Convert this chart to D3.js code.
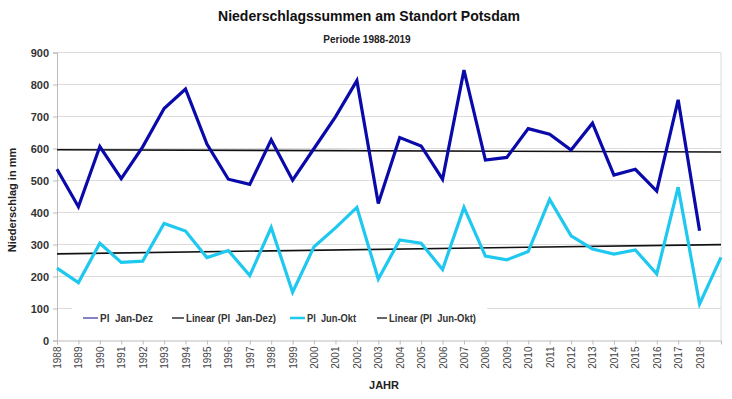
<!DOCTYPE html>
<html>
<head>
<meta charset="utf-8">
<script src="https://cdnjs.cloudflare.com/ajax/libs/d3/7.8.5/d3.min.js"></script>
<style>
  body { margin: 0; background: #fff; }
  text { font-family: "Liberation Sans", Arial, sans-serif; }
</style>
</head>
<body>
<svg id="chart" width="732" height="399"></svg>
<script>
// data
const years = d3.range(1988, 2020);
const tickYears = d3.range(1988, 2019);
const janDez = [535, 418, 606, 506, 605, 725, 786, 614, 504, 488,
                627, 501, 600, 699, 812, 428, 634, 608, 504, 845,
                564, 572, 662, 645, 595, 679, 517, 535, 467, 752,
                343, null];
const junOkt = [226, 181, 304, 244, 248, 366, 342, 259, 281, 203,
                353, 151, 293, 352, 416, 192, 314, 304, 222, 416,
                264, 252, 278, 441, 327, 286, 270, 283, 208, 479,
                114, 260];
const yTicks = [0, 100, 200, 300, 400, 500, 600, 700, 800, 900];

const svg = d3.select("#chart");
const plotLeft = 57, plotRight = 721, plotTop = 52.5, plotBottom = 340.5;

const x = d3.scaleLinear().domain([1988, 2019]).range([plotLeft, plotRight]);
const y = d3.scaleLinear().domain([0, 900]).range([plotBottom, plotTop]);

// titles
svg.append("text").attr("x", 369).attr("y", 21).attr("text-anchor", "middle")
  .style("font-size", "14px").style("font-weight", "bold").attr("fill", "#111")
  .text("Niederschlagssummen am Standort Potsdam");
svg.append("text").attr("x", 367).attr("y", 43).attr("text-anchor", "middle")
  .style("font-size", "10px").style("font-weight", "bold").attr("fill", "#222")
  .text("Periode 1988-2019");

// grid + frame
svg.append("g").selectAll("line").data(yTicks.slice(1)).enter().append("line")
  .attr("x1", plotLeft).attr("x2", plotRight)
  .attr("y1", d => y(d)).attr("y2", d => y(d))
  .attr("stroke", "#dcdcdc").attr("stroke-width", 1);
svg.append("line").attr("x1", plotRight).attr("x2", plotRight).attr("y1", plotTop).attr("y2", plotBottom)
  .attr("stroke", "#dcdcdc");

// y axis
const yAxis = svg.append("g").attr("transform", `translate(${plotLeft},0)`)
  .call(d3.axisLeft(y).tickValues(yTicks).tickSize(4).tickPadding(4));
yAxis.select(".domain").attr("stroke", "#bbb");
yAxis.selectAll(".tick line").attr("stroke", "#bbb");
yAxis.selectAll("text").style("font-size", "11px").style("font-weight", "bold")
  .style("font-family", "Liberation Sans, Arial, sans-serif").attr("fill", "#333");

// x axis
const xAxis = svg.append("g").attr("transform", `translate(0,${plotBottom})`)
  .call(d3.axisBottom(x).tickValues(tickYears).tickFormat(d3.format("d")).tickSize(4));
xAxis.select(".domain").attr("stroke", "#bbb");
xAxis.selectAll(".tick line").attr("stroke", "#bbb");
xAxis.selectAll("text")
  .style("font-size", "10px").style("font-family", "Liberation Sans, Arial, sans-serif")
  .attr("fill", "#444")
  .attr("transform", "rotate(-90)")
  .attr("text-anchor", "end")
  .attr("x", -6).attr("y", 0).attr("dy", "0.35em");

svg.append("text").attr("x", 384).attr("y", 389).attr("text-anchor", "middle")
  .style("font-size", "11px").style("font-weight", "bold").attr("fill", "#222")
  .text("JAHR");
svg.append("text").attr("transform", "translate(16,200) rotate(-90)").attr("text-anchor", "middle")
  .style("font-size", "11px").style("font-weight", "bold").attr("fill", "#222")
  .text("Niederschlag in mm");

// linear trend (least squares)
function trend(vals) {
  const pts = years.map((yr, i) => [yr, vals[i]]).filter(p => p[1] != null);
  const mx = d3.mean(pts, p => p[0]), my = d3.mean(pts, p => p[1]);
  const b = d3.sum(pts, p => (p[0] - mx) * (p[1] - my)) / d3.sum(pts, p => (p[0] - mx) ** 2);
  return yr => my + b * (yr - mx);
}

// legend box
svg.append("rect").attr("x", 72).attr("y", 300).attr("width", 415).attr("height", 36).attr("fill", "#fff");

const line = d3.line().defined(d => d[1] != null).x(d => x(d[0])).y(d => y(d[1]));

const series = [
  { name: "Pl Jan-Dez", vals: janDez, color: "#0a0aaa" },
  { name: "Pl Jun-Okt", vals: junOkt, color: "#1ec8ef" }
];

series.forEach(s => {
  const f = trend(s.vals);
  svg.append("path").attr("d", line([[1988, f(1988)], [2019, f(2019)]]))
    .attr("fill", "none").attr("stroke", "#111").attr("stroke-width", 1.6);
});
series.forEach(s => {
  svg.append("path").attr("d", line(years.map((yr, i) => [yr, s.vals[i]])))
    .attr("fill", "none").attr("stroke", s.color).attr("stroke-width", 3.2)
    .attr("stroke-linejoin", "miter");
});

// legend
const legendItems = [
  { label: "Pl  Jan-Dez", color: "#5a5ab4", x: 83, w: 15, tw: 53 },
  { label: "Linear (Pl  Jan-Dez)", color: "#333", x: 172, w: 12, tw: 90 },
  { label: "Pl  Jun-Okt", color: "#1ec8ef", x: 290, w: 15, tw: 49 },
  { label: "Linear (Pl  Jun-Okt)", color: "#333", x: 377, w: 10, tw: 87 }
];
const lg = svg.append("g").selectAll("g").data(legendItems).enter().append("g")
  .attr("transform", d => `translate(${d.x},318)`);
lg.append("line").attr("x1", 0).attr("x2", d => d.w).attr("stroke", d => d.color)
  .attr("stroke-width", d => d.color === "#1ec8ef" ? 2.5 : 1.5);
lg.append("text").attr("x", d => d.w + 2).attr("dy", "0.35em")
  .style("font-size", "11px").style("font-weight", "bold").style("white-space", "pre")
  .attr("textLength", d => d.tw).attr("lengthAdjust", "spacingAndGlyphs")
  .attr("fill", "#333")
  .text(d => d.label);
</script>
</body>
</html>
